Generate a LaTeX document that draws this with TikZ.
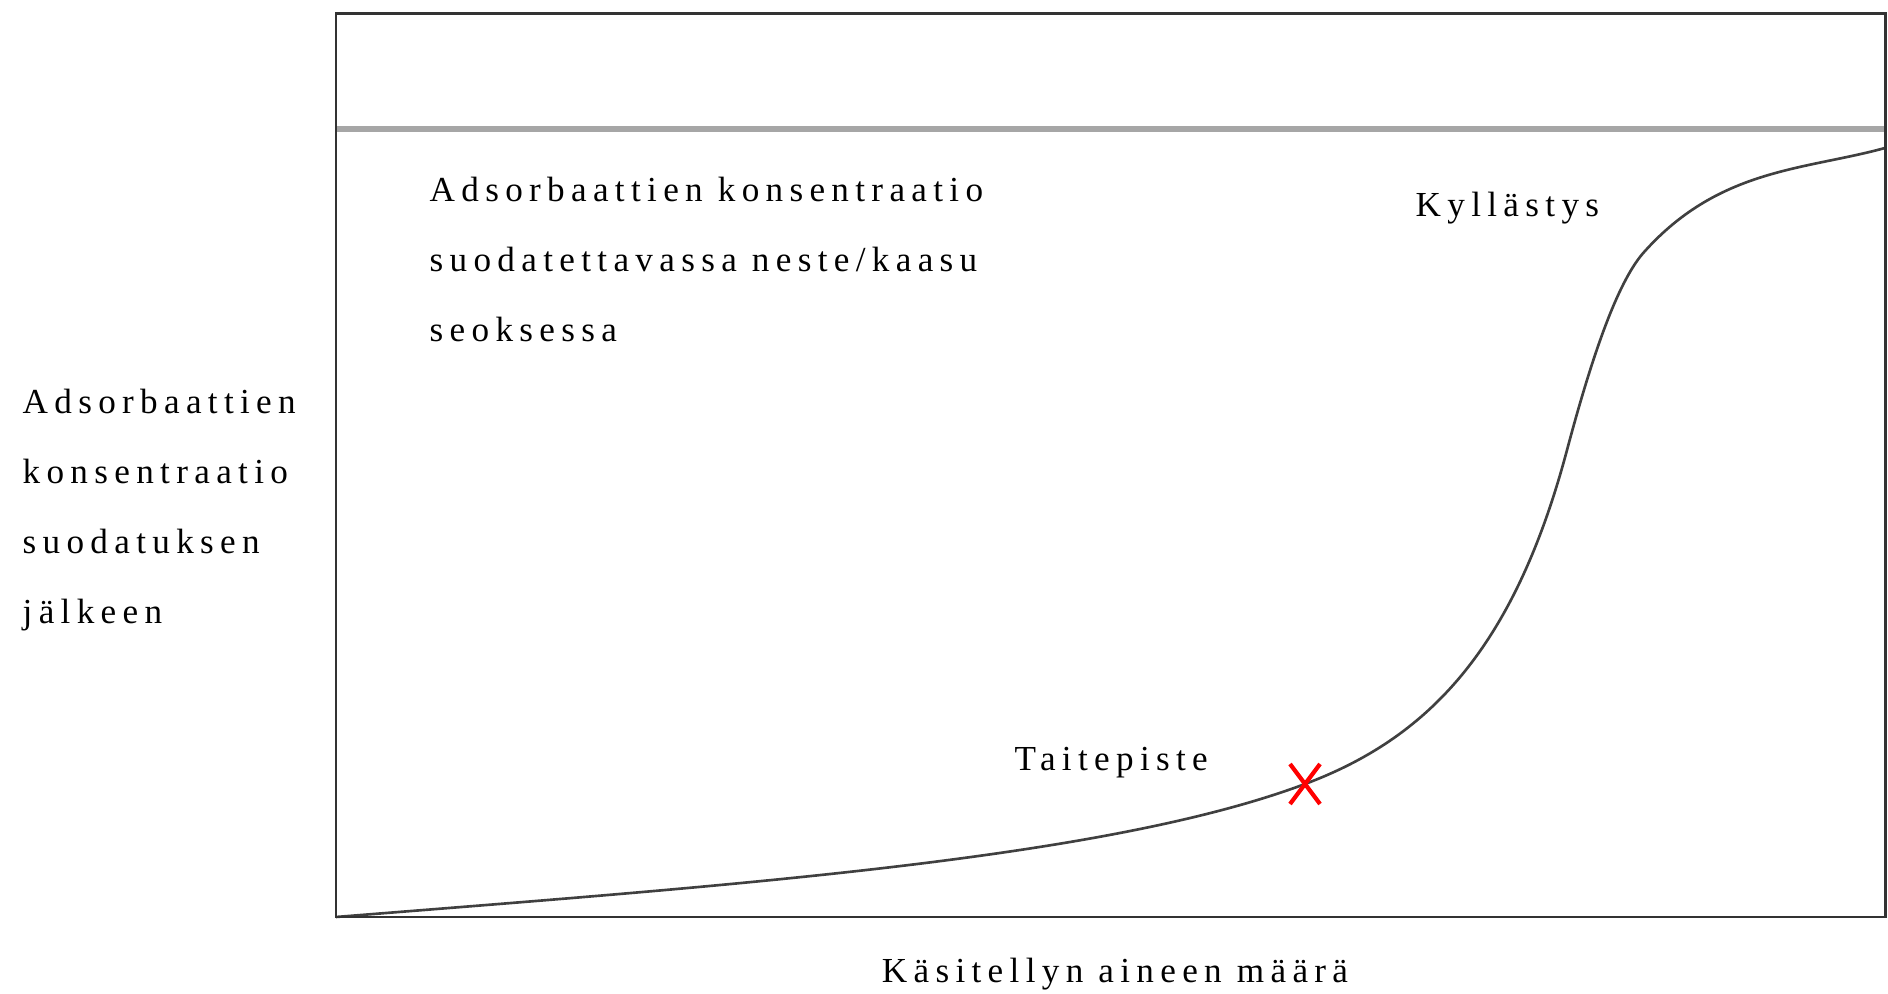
\documentclass[tikz,border=0pt]{standalone}
\usepackage{fontspec}
\setmainfont[LetterSpace=18]{Liberation Serif}
\usepackage{tikz}

\begin{document}
\begin{tikzpicture}[
            % Stile per la cornice del grafico
            cornice/.style={draw=black!80, line width=0.85pt},
            % Stile per la linea grigia in alto
            soglia/.style={draw=black!35, line width=1.5pt},
            % Stile per la curva
            curva/.style={draw=black!75, line width=0.75pt},
            % Stile per la croce rossa
            croce/.style={draw=red, line width=1.2pt},
            % Stile per i testi
            testo/.style={inner sep=0pt, text=black, align=left, font=\fontsize{10}{20}\selectfont}
        ]
            \useasboundingbox (0,0) rectangle (18.88,9.93);

            % --- Cornice ---
            \coordinate (o) at (3.36,0.76);
            \coordinate (q) at (18.85,9.79);
            \coordinate (sl) at (3.36,8.64);
            \coordinate (sr) at (18.85,8.64);

            \draw[soglia] (sl) -- (sr);

            % --- Curva di saturazione ---
            \coordinate (tp) at (13.05,2.09);   % punto di svolta
            \coordinate (fl) at (15.67,5.43);   % flesso
            \coordinate (gn) at (16.45,7.42);   % ginocchio
            \coordinate (fine) at (18.85,8.45);

            \draw[curva] (o) .. controls (7.36,1.08) and (11.05,1.34) .. (tp)
                .. controls (14.25,2.54) and (15.13,3.40) .. (fl)
                .. controls (15.95,6.48) and (16.20,7.15) .. (gn)
                .. controls (17.20,8.25) and (18.05,8.23) .. (fine);

            \draw[cornice] (o) rectangle (q);

            % --- Punto di svolta (croce) ---
            \draw[croce] ([shift={(-0.15,-0.2)}]tp) -- ([shift={(0.15,0.2)}]tp);
            \draw[croce] ([shift={(-0.15,0.2)}]tp) -- ([shift={(0.15,-0.2)}]tp);

            % --- Testi ---
            \node[testo, anchor=north west] (conc) at (4.29,8.17)
                {Adsorbaattien konsentraatio\\suodatettavassa neste/kaasu\\seoksessa};
            \node[testo, anchor=north west] (asse) at (0.22,6.05)
                {Adsorbaattien\\konsentraatio\\suodatuksen\\jälkeen};
            \node[testo, anchor=base west] (kyll) at (14.15,7.76) {Kyllästys};
            \node[testo, anchor=base west] (taite) at (10.14,2.22) {Taitepiste};
            \node[testo, anchor=base] (aine) at (11.15,0.10) {Käsitellyn aineen määrä};

        \end{tikzpicture}
\end{document}
